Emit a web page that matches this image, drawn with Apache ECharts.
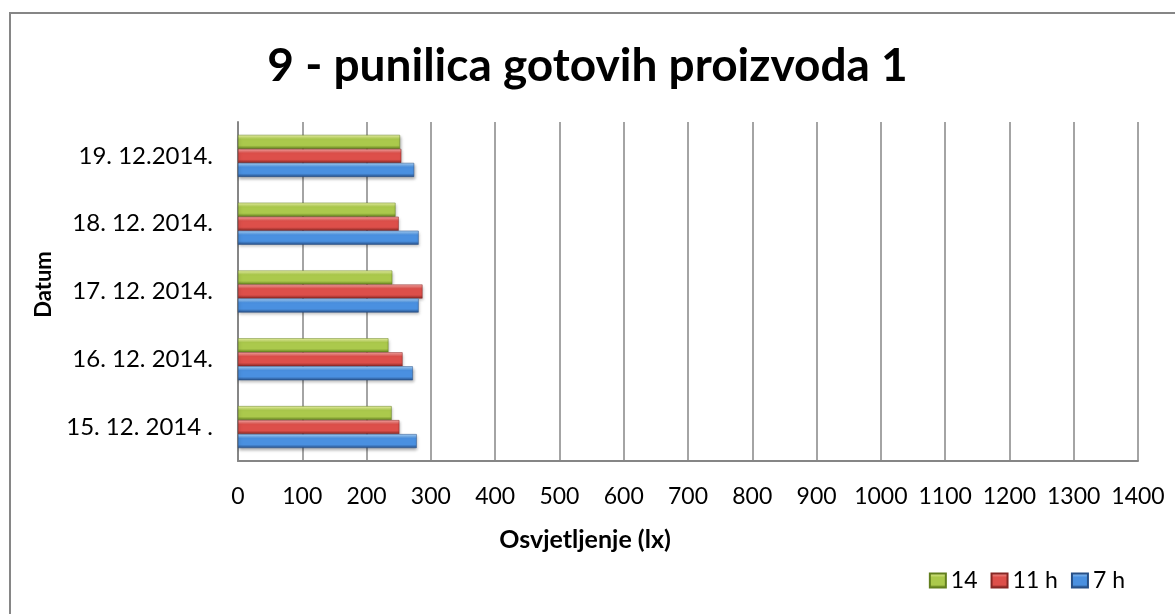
<!doctype html>
<html>
<head>
<meta charset="utf-8">
<title>9 - punilica gotovih proizvoda 1</title>
<script src="https://cdn.jsdelivr.net/npm/echarts@6/dist/echarts.min.js"></script>
<style>
html, body { margin: 0; padding: 0; background: #fff; overflow: hidden; }
#main { width: 1175px; height: 614px; }
</style>
</head>
<body>
<div id="main"></div>
<script>
// podaci
var datumi = ['15. 12. 2014 .', '16. 12. 2014.', '17. 12. 2014.', '18. 12. 2014.', '19. 12.2014.'];
var sedam = [278, 272, 281, 281, 274];      // 7 h
var jedanaest = [251, 256, 287, 250, 254];  // 11 h
var cetrnaest = [239, 234, 240, 245, 252];  // 14
var xTicks = { min: 0, max: 1400, interval: 100 };

var font = 'Lato, "Open Sans", sans-serif';
var sivo = '#868686';

function bevel(light, mid, dark) {
    return new echarts.graphic.LinearGradient(0, 0, 0, 1, [
        { offset: 0, color: light },
        { offset: 0.3, color: mid },
        { offset: 0.75, color: mid },
        { offset: 1, color: dark }
    ]);
}

function serija(ime, podaci, boje) {
    return {
        name: ime,
        type: 'bar',
        data: podaci,
        barWidth: 14,
        barGap: '0%',
        itemStyle: {
            color: bevel(boje[0], boje[1], boje[2]),
            borderColor: boje[2],
            borderWidth: 0.5,
            shadowColor: 'rgba(0,0,0,0.3)',
            shadowBlur: 3,
            shadowOffsetX: 1,
            shadowOffsetY: 2
        }
    };
}

var myChart = echarts.init(document.getElementById('main'));

var option = {
    animation: false,
    textStyle: { fontFamily: font },
    title: {
        text: '9 - punilica gotovih proizvoda 1',
        left: 'center',
        top: 38,
        textStyle: { fontFamily: font, fontSize: 46, fontWeight: 'bold', color: '#000' }
    },
    graphic: [{
        type: 'rect',
        shape: { x: 10, y: 13, width: 2000, height: 2000 },
        style: { fill: 'none', stroke: sivo, lineWidth: 2 },
        silent: true
    }],
    legend: {
        data: ['14', '11 h', '7 h'],
        right: 45,
        top: 564,
        itemWidth: 16,
        itemHeight: 14,
        itemGap: 13,
        icon: 'rect',
        textStyle: { fontFamily: font, fontSize: 23, color: '#000', padding: [0, 0, 0, 0] }
    },
    grid: { left: 238, right: 37, top: 122, bottom: 153, containLabel: false },
    xAxis: {
        type: 'value',
        min: xTicks.min,
        max: xTicks.max,
        interval: xTicks.interval,
        name: 'Osvjetljenje (lx)',
        nameLocation: 'middle',
        nameGap: 66,
        nameTextStyle: {
            fontFamily: font, fontSize: 25, fontWeight: 'bold', color: '#000',
            padding: [0, 206, 0, 0]
        },
        axisLine: { show: true, lineStyle: { color: sivo, width: 2 } },
        axisTick: { show: false },
        axisLabel: {
            margin: 24, fontSize: 23, color: '#000', fontFamily: font,
            formatter: function (v) { return String(v); }
        },
        splitLine: { show: true, lineStyle: { color: sivo, width: 1.5 } }
    },
    yAxis: {
        type: 'category',
        data: datumi,
        name: 'Datum',
        nameLocation: 'middle',
        nameGap: 183,
        nameRotate: 90,
        nameTextStyle: {
            fontFamily: font, fontSize: 22, fontWeight: 'bold', color: '#000',
            padding: [0, 0, 0, 14]
        },
        axisLine: { show: true, lineStyle: { color: sivo, width: 2 } },
        axisTick: { show: false },
        axisLabel: { margin: 25, fontSize: 24, color: '#000', fontFamily: font }
    },
    series: [
        serija('14', cetrnaest, ['#eef7a8', '#abc94c', '#627f1e']),
        serija('11 h', jedanaest, ['#f9a8a5', '#dd4f4a', '#862724']),
        serija('7 h', sedam, ['#aad4fa', '#4a90e0', '#274f86'])
    ]
};

myChart.setOption(option);
</script>
</body>
</html>
